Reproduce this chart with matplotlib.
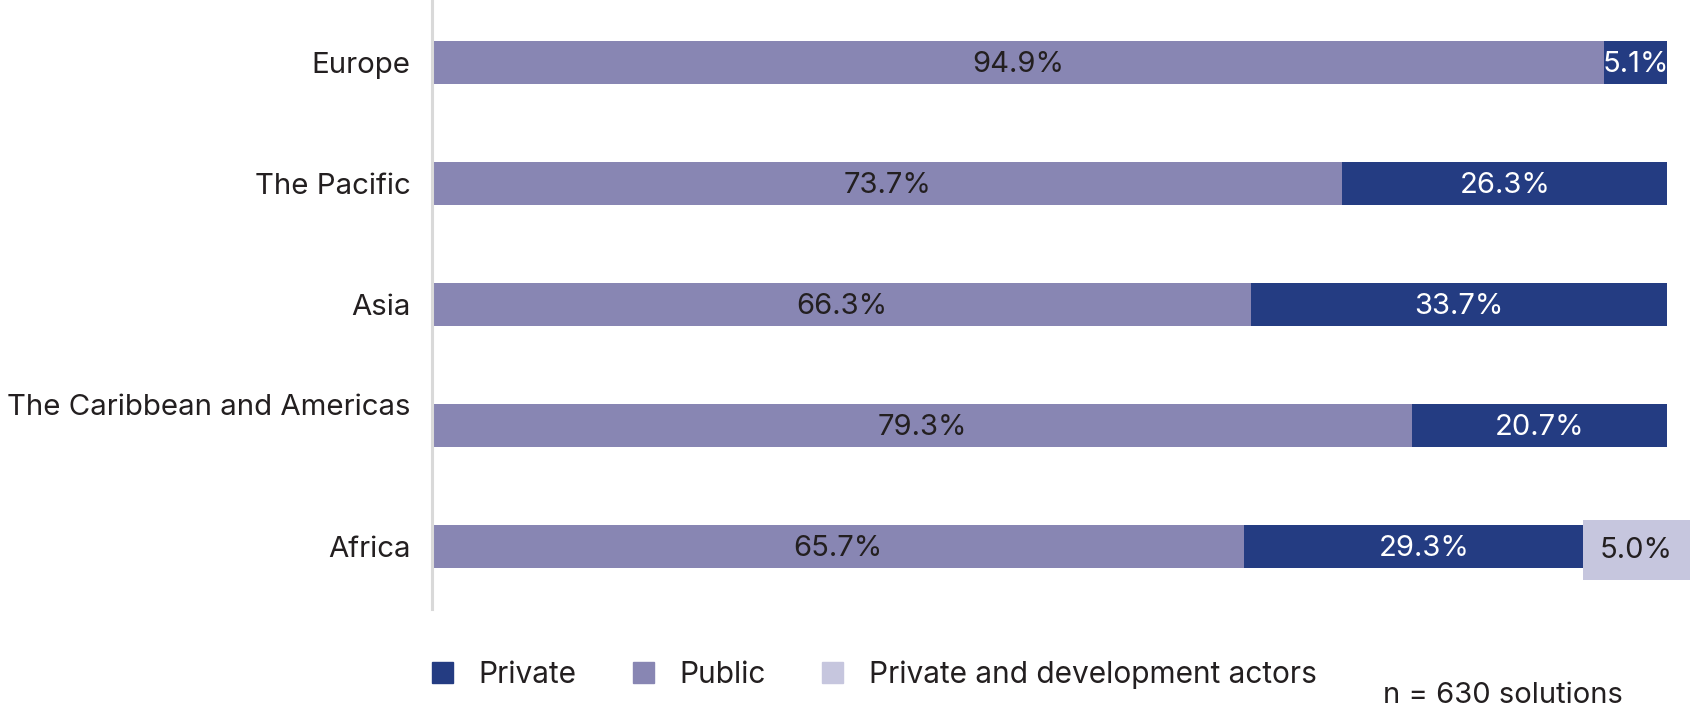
import matplotlib.pyplot as plt
import matplotlib.transforms as mtransforms
from matplotlib.patches import Patch
import numpy as np

regions = ["Europe", "The Pacific", "Asia", "The Caribbean and Americas", "Africa"]
public = [94.9, 73.7, 66.3, 79.3, 65.7]
private = [5.1, 26.3, 33.7, 20.7, 29.3]
private_dev = [0.0, 0.0, 0.0, 0.0, 5.0]
n_solutions = 630

c_private = "#243c82"
c_public = "#8886b3"
c_dev = "#c6c6de"
c_text = "#231f20"

plt.rcParams["font.family"] = ["Inter", "DejaVu Sans"]

fig = plt.figure(figsize=(16.94, 7.15), dpi=100)
ax = fig.add_axes([433 / 1694, 1 - 609 / 715, 1234 / 1694, 609 / 715])

y = np.arange(len(regions))
h = 0.355
public = np.array(public)
private = np.array(private)
private_dev = np.array(private_dev)

ax.barh(y, public, height=h, color=c_public)
ax.barh(y, private, left=public, height=h, color=c_private)
ax.barh(y, private_dev, left=public + private, height=h, color=c_dev)

for i in range(len(regions)):
    ax.text(public[i] / 2, y[i] + 0.02, f"{public[i]:.1f}%", ha="center", va="center",
            fontsize=21, color=c_text, clip_on=True)
    ax.text(public[i] + private[i] / 2, y[i] + 0.02, f"{private[i]:.1f}%", ha="center",
            va="center", fontsize=21, color="white", clip_on=True)
    if private_dev[i] > 0:
        ax.text(public[i] + private[i] + private_dev[i] / 2, y[i] + 0.03,
                f"{private_dev[i]:.1f}%", ha="center", va="center", fontsize=21,
                color=c_text, clip_on=False,
                bbox=dict(boxstyle="square,pad=0.58", fc=c_dev, ec="none"))

ax.set_xlim(0, 100)
ax.set_ylim(4.517, -0.5165)
ax.set_yticks(y)
ax.set_yticklabels(regions)
ax.tick_params(axis="y", length=0, pad=15, labelsize=21.2, labelcolor=c_text)
ax.set_xticks([])
for s in ["top", "right", "bottom"]:
    ax.spines[s].set_visible(False)
ax.spines["left"].set_color("#d9d9d9")
ax.spines["left"].set_linewidth(2.2)
ax.spines["left"].set_position(("outward", 1))

# the Caribbean label sits a little above its bar
lab = ax.get_yticklabels()[3]
lab.set_transform(lab.get_transform() +
                  mtransforms.ScaledTranslation(0, 0.21, fig.dpi_scale_trans))

handles = [Patch(color=c_private, label="Private"),
           Patch(color=c_public, label="Public"),
           Patch(color=c_dev, label="Private and development actors")]
fig.legend(handles=handles, loc="center left", bbox_to_anchor=(432 / 1694, 1 - 675 / 715),
           ncol=3, frameon=False, fontsize=21.5, handlelength=0.7, handleheight=0.7,
           handletextpad=0.85, columnspacing=1.9, borderpad=0, borderaxespad=0,
           labelcolor=c_text)

fig.text(1623 / 1694, 1 - 703 / 715, f"n = {n_solutions} solutions", ha="right",
         va="baseline", fontsize=21, color=c_text)

fig.savefig("out.png", dpi=100)
